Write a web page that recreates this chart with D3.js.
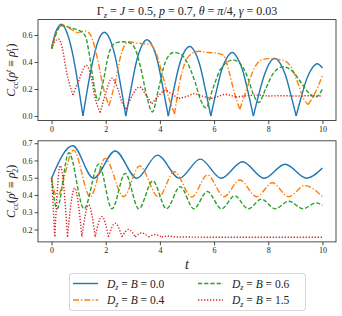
<!DOCTYPE html>
<html>
<head>
<meta charset="utf-8">
<script src="https://cdn.jsdelivr.net/npm/d3@7"></script>
<style>
  body { margin: 0; background: #fff; }
  svg text { font-family: "Liberation Serif", "DejaVu Serif", serif; fill: #222; }
</style>
</head>
<body>
<svg id="chart" width="342" height="316"></svg>
<script>
// values, [t, C]
const topD00 = [[0,0.5],[0.15,0.62],[0.37,0.68],[0.6,0.6],[0.8,0.44],[1.0,0.21],[1.16,0],
  [1.36,0.24],[1.56,0.44],[1.75,0.57],[1.95,0.62],[2.15,0.57],[2.35,0.44],[2.54,0.24],[2.74,0],
  [2.94,0.21],[3.13,0.4],[3.33,0.52],[3.52,0.565],[3.72,0.52],[3.92,0.4],[4.11,0.21],[4.31,0],
  [4.51,0.195],[4.7,0.365],[4.9,0.475],[5.1,0.515],[5.29,0.475],[5.49,0.365],[5.68,0.195],[5.88,0],
  [6.08,0.18],[6.27,0.335],[6.47,0.43],[6.67,0.47],[6.86,0.43],[7.06,0.335],[7.25,0.18],[7.45,0],
  [7.65,0.16],[7.85,0.3],[8.04,0.39],[8.24,0.427],[8.44,0.39],[8.64,0.3],[8.83,0.16],[9.03,0],
  [9.23,0.15],[9.42,0.275],[9.62,0.355],[9.81,0.387],[10,0.355]];
const topD04 = [[0,0.5],[0.15,0.6],[0.42,0.675],[0.7,0.645],[0.95,0.615],[1.25,0.63],[1.45,0.595],
  [1.7,0.42],[1.9,0.22],[2.12,0.075],[2.35,0.25],[2.6,0.48],[2.85,0.55],[3.15,0.54],[3.4,0.535],
  [3.65,0.53],[3.85,0.47],[4.1,0.3],[4.35,0.12],[4.54,0.015],[4.75,0.27],[4.9,0.38],[5.1,0.45],
  [5.45,0.48],[5.8,0.47],[6.1,0.465],[6.35,0.45],[6.55,0.33],[6.75,0.17],[6.95,0.05],[7.2,0.2],
  [7.5,0.36],[7.75,0.415],[8.0,0.425],[8.3,0.42],[8.6,0.41],[8.85,0.36],[9.1,0.24],[9.3,0.13],
  [9.47,0.085],[9.7,0.16],[10,0.3]];
const topD06 = [[0,0.5],[0.15,0.6],[0.36,0.67],[0.6,0.66],[0.85,0.645],[1.05,0.63],[1.25,0.59],
  [1.4,0.45],[1.55,0.25],[1.71,0.115],[1.9,0.25],[2.1,0.45],[2.35,0.54],[2.65,0.55],[2.9,0.54],
  [3.1,0.49],[3.3,0.35],[3.5,0.16],[3.72,0.03],[3.95,0.2],[4.2,0.4],[4.5,0.47],[4.75,0.46],
  [5.0,0.4],[5.3,0.25],[5.5,0.12],[5.7,0.06],[5.95,0.2],[6.25,0.35],[6.7,0.415],[7.0,0.38],
  [7.25,0.28],[7.45,0.16],[7.65,0.1],[7.9,0.2],[8.2,0.32],[8.55,0.365],[8.9,0.33],[9.2,0.25],
  [9.5,0.17],[9.75,0.14],[10,0.2]];
const topD15 = [[0,0.5],[0.12,0.55],[0.26,0.57],[0.4,0.5],[0.55,0.33],[0.79,0.155],[1.0,0.26],
  [1.28,0.375],[1.45,0.3],[1.6,0.14],[1.8,0.025],[2.0,0.17],[2.23,0.28],[2.45,0.2],[2.6,0.1],
  [2.76,0.05],[3.0,0.16],[3.25,0.215],[3.5,0.15],[3.7,0.09],[3.95,0.15],[4.2,0.19],[4.45,0.16],
  [4.7,0.13],[5.0,0.145],[5.28,0.165],[5.6,0.145],[5.9,0.13],[6.15,0.145],[6.4,0.16],[6.8,0.14],
  [7.2,0.15],[7.6,0.155],[8.0,0.148],[8.5,0.15],[9.0,0.148],[9.5,0.15],[10,0.148]];

const botD00 = [[0,0.497],[0.78,0.685],[1.55,0.497],[2.35,0.655],[3.15,0.497],[3.91,0.631],
  [4.72,0.497],[5.49,0.608],[6.26,0.497],[7.05,0.593],[7.85,0.497],[8.62,0.578],[9.42,0.497],[10,0.556]];
const botD04 = [[0,0.497],[0.2,0.39],[0.81,0.66],[1.43,0.39],[1.98,0.612],[2.66,0.39],[3.25,0.568],
  [3.95,0.388],[4.53,0.535],[5.18,0.388],[5.75,0.516],[6.37,0.39],[6.95,0.487],[7.57,0.39],
  [8.15,0.471],[8.75,0.39],[9.35,0.454],[10,0.39]];
const botD06 = [[0,0.497],[0.2,0.32],[0.64,0.645],[1.2,0.32],[1.74,0.579],[2.23,0.32],[2.72,0.525],
  [3.22,0.32],[3.74,0.482],[4.24,0.32],[4.75,0.448],[5.25,0.32],[5.75,0.42],[6.27,0.32],[6.76,0.395],
  [7.26,0.32],[7.75,0.376],[8.26,0.32],[8.76,0.364],[9.28,0.32],[9.76,0.354],[10,0.34]];
const botD15 = [[0,0.5],[0.12,0.16],[0.32,0.57],[0.59,0.158],[0.85,0.44],[1.12,0.158],[1.37,0.342],
  [1.61,0.158],[1.86,0.275],[2.1,0.158],[2.35,0.236],[2.6,0.158],[2.84,0.2],[3.09,0.157],[3.33,0.18],
  [3.58,0.157],[3.82,0.17],[4.07,0.156],[4.32,0.162],[4.6,0.156],[5,0.156],[6,0.155],[7,0.155],
  [8,0.155],[9,0.155],[10,0.155]];

const legendLabels = ["0.0", "0.4", "0.6", "1.5"];
const xTicks = [0, 2, 4, 6, 8, 10];
const topYTicks = [0.0, 0.2, 0.4, 0.6];
const botYTicks = [0.2, 0.3, 0.4, 0.5, 0.6, 0.7];

const styles = [
  {color: "#1f77b4", dash: null},
  {color: "#ff7f0e", dash: "6,2,1.3,2"},
  {color: "#2ca02c", dash: "4.2,2"},
  {color: "#d62728", dash: "1.3,1.7"}
];

const svg = d3.select("#chart");
svg.append("rect").attr("width", 342).attr("height", 316).attr("fill", "#fff");

const x = d3.scaleLinear().domain([-0.5, 10.5]).range([38, 336]);
const yTop = d3.scaleLinear().domain([-0.034, 0.714]).range([120.6, 19.6]);
const yBot = d3.scaleLinear().domain([0.128, 0.714]).range([241.9, 140.8]);

// break the series at its cusps so the smoothing keeps them sharp
function segments(pts, sharp) {
  if (!sharp) return [pts];
  let segs = [], cur = [pts[0]];
  for (let i = 1; i < pts.length; i++) {
    cur.push(pts[i]);
    if (i < pts.length - 1 && pts[i][1] < pts[i - 1][1] && pts[i][1] < pts[i + 1][1]) {
      segs.push(cur);
      cur = [pts[i]];
    }
  }
  segs.push(cur);
  return segs;
}

function drawPanel(y, yTicks, series, sharp) {
  let g = svg.append("g");
  let line = d3.line()
    .x(d => x(d[0]))
    .y(d => y(d[1]))
    .curve(d3.curveMonotoneX);

  series.forEach((s, i) => {
    let st = styles[i];
    segments(s, sharp[i]).forEach(seg => {
      g.append("path")
        .attr("d", line(seg))
        .attr("fill", "none")
        .attr("stroke", st.color)
        .attr("stroke-width", 1.4)
        .attr("stroke-dasharray", st.dash);
    });
  });

  let [y0, y1] = y.range();
  g.append("g")
    .attr("transform", `translate(0,${y0})`)
    .call(d3.axisBottom(x).tickValues(xTicks).tickFormat(d3.format("d")).tickSize(3.5).tickSizeOuter(0).tickPadding(2));
  g.append("g")
    .attr("transform", `translate(${x.range()[0]},0)`)
    .call(d3.axisLeft(y).tickValues(yTicks).tickFormat(d3.format(".1f")).tickSize(3.5).tickSizeOuter(0).tickPadding(2));
  g.selectAll(".domain").remove();
  g.selectAll(".tick line").attr("stroke", "#222").attr("stroke-width", 0.8);
  g.selectAll(".tick text").attr("font-size", 8).attr("fill", "#222")
    .attr("font-family", "'Liberation Serif', 'DejaVu Serif', serif");

  g.append("rect")
    .attr("x", x.range()[0]).attr("y", y1)
    .attr("width", x.range()[1] - x.range()[0]).attr("height", y0 - y1)
    .attr("fill", "none").attr("stroke", "#222").attr("stroke-width", 0.8);
}

drawPanel(yTop, topYTicks, [topD00, topD04, topD06, topD15], [true, true, false, true]);
drawPanel(yBot, botYTicks, [botD00, botD04, botD06, botD15], [false, false, false, true]);

// title
let title = svg.append("text").attr("x", 187).attr("y", 15).attr("text-anchor", "middle").attr("font-size", 12);
title.append("tspan").text("Γ");
title.append("tspan").attr("font-size", 8.5).attr("dy", 2.5).attr("font-style", "italic").text("z");
title.append("tspan").attr("dy", -2.5).text(" = ");
title.append("tspan").attr("font-style", "italic").text("J");
title.append("tspan").text(" = 0.5, ");
title.append("tspan").attr("font-style", "italic").text("p");
title.append("tspan").text(" = 0.7, ");
title.append("tspan").attr("font-style", "italic").text("θ");
title.append("tspan").text(" = ");
title.append("tspan").attr("font-style", "italic").text("π");
title.append("tspan").text("/4, ");
title.append("tspan").attr("font-style", "italic").text("γ");
title.append("tspan").text(" = 0.03");

function yLabel(cy, idx) {
  let t = svg.append("text")
    .attr("transform", `translate(15,${cy}) rotate(-90)`)
    .attr("text-anchor", "middle").attr("font-size", 12);
  t.append("tspan").attr("font-style", "italic").text("C");
  t.append("tspan").attr("font-size", 8).attr("dy", 2.5).text("cc");
  t.append("tspan").attr("dy", -2.5).text("(");
  t.append("tspan").attr("font-style", "italic").text("ρ");
  t.append("tspan").attr("font-size", 8).attr("font-style", "italic").attr("dy", -4.5).text("t");
  t.append("tspan").attr("dy", 4.5).text(" ≡ ");
  t.append("tspan").attr("font-style", "italic").text("ρ");
  t.append("tspan").attr("font-size", 8).attr("font-style", "italic").attr("dy", -4.5).text("t");
  t.append("tspan").attr("font-size", 8).attr("dx", -2.5).attr("dy", 7.5).text(idx);
  t.append("tspan").attr("dy", -3).text(")");
}
yLabel((yTop.range()[0] + yTop.range()[1]) / 2, "1");
yLabel((yBot.range()[0] + yBot.range()[1]) / 2, "2");

svg.append("text").attr("x", 187).attr("y", 269).attr("text-anchor", "middle")
  .attr("font-size", 14).attr("font-style", "italic").text("t");

// legend
let lg = svg.append("g");
lg.append("rect").attr("x", 69.5).attr("y", 273.5).attr("width", 236).attr("height", 37).attr("rx", 2.5)
  .attr("fill", "#fff").attr("stroke", "#ccc").attr("stroke-width", 0.8);
legendLabels.forEach((lab, i) => {
  let col = Math.floor(i / 2), row = i % 2;
  let lx = 73 + col * 125, ly = 283.5 + row * 16.5;
  lg.append("line").attr("x1", lx).attr("x2", lx + 25).attr("y1", ly).attr("y2", ly)
    .attr("stroke", styles[i].color).attr("stroke-width", 1.4).attr("stroke-dasharray", styles[i].dash);
  let t = lg.append("text").attr("x", lx + 34).attr("y", ly + 4).attr("font-size", 11.5);
  t.append("tspan").attr("font-style", "italic").text("D");
  t.append("tspan").attr("font-style", "italic").attr("font-size", 8).attr("dy", 2.5).text("z");
  t.append("tspan").attr("dy", -2.5).text(" = ");
  t.append("tspan").attr("font-style", "italic").text("B");
  t.append("tspan").text(" = " + lab);
});
</script>
</body>
</html>
